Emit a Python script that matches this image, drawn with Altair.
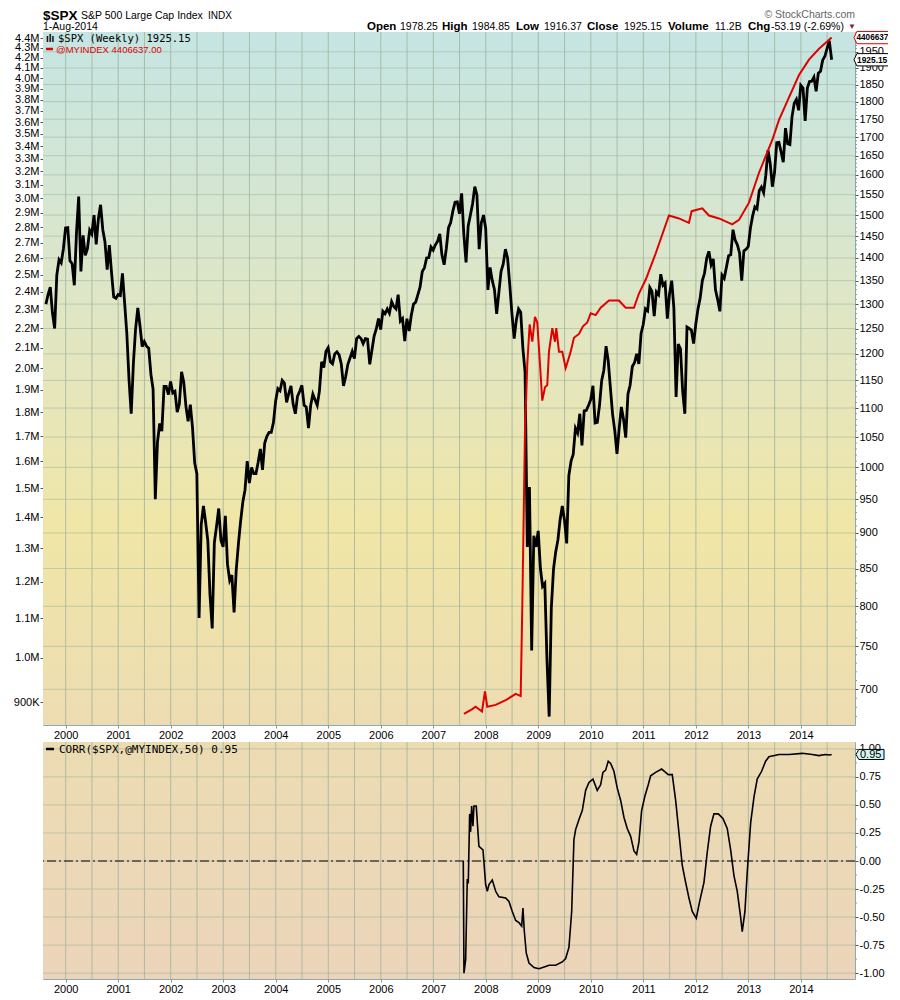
import altair as alt
import pandas as pd

# ---------------- layout constants ----------------
W, H1, H2 = 812, 693, 237
XDOM = [1999.568, 2015.03]
SPX_DOM = [661, 2013]
IDX_DOM = [852000, 4466000]
CORR_DOM = [-1.052, 1.061]
FONT = "Liberation Sans"
MONO = "DejaVu Sans Mono"
GRID = "#9fb39d"
RED = "#e00000"

# ---------------- data ----------------
# $SPX weekly chart, read as two values per month (mid-month, month-end)
spx_1999 = [1300, 1320, 1336, 1282, 1250, 1362, 1396, 1389, 1421, 1469]  # Aug..Dec
spx_2000 = [1470, 1394, 1387, 1340, 1460, 1545, 1370, 1452, 1406, 1421, 1464, 1455,
            1500, 1431, 1492, 1525, 1465, 1437, 1374, 1429, 1367, 1315, 1312, 1320]
spx_2001 = [1318, 1366, 1301, 1240, 1150, 1090, 1183, 1249, 1292, 1256, 1214, 1224,
            1215, 1211, 1161, 1134, 950, 1041, 1073, 1060, 1139, 1139, 1124, 1148]
spx_2002 = [1127, 1130, 1093, 1107, 1166, 1147, 1103, 1077, 1106, 1067, 1007, 990,
            785, 912, 940, 916, 889, 815, 772, 886, 910, 936, 889, 880]
spx_2003 = [925, 856, 834, 841, 792, 848, 885, 917, 946, 964, 1010, 975,
            1000, 990, 990, 1008, 1030, 996, 1040, 1051, 1058, 1058, 1075, 1112]
spx_2004 = [1135, 1131, 1150, 1145, 1110, 1126, 1140, 1107, 1090, 1121, 1130, 1141,
            1105, 1102, 1065, 1104, 1125, 1115, 1105, 1130, 1185, 1174, 1205, 1212]
spx_2005 = [1185, 1181, 1200, 1204, 1198, 1181, 1140, 1157, 1180, 1192, 1205, 1191,
            1230, 1234, 1230, 1220, 1230, 1229, 1180, 1207, 1235, 1249, 1270, 1248]
spx_2006 = [1285, 1280, 1290, 1281, 1305, 1295, 1290, 1320, 1265, 1270, 1225, 1270,
            1245, 1277, 1300, 1304, 1320, 1336, 1370, 1378, 1400, 1401, 1425, 1418]
spx_2007 = [1430, 1438, 1455, 1407, 1385, 1421, 1470, 1482, 1510, 1531, 1532, 1503,
            1553, 1455, 1390, 1474, 1500, 1527, 1570, 1549, 1420, 1481, 1500, 1468]
spx_2008 = [1330, 1379, 1350, 1331, 1280, 1323, 1370, 1386, 1420, 1400, 1340, 1280,
            1230, 1267, 1290, 1283, 1210, 1165, 880, 969, 745, 896, 880, 903]
spx_2009 = [850, 826, 830, 735, 670, 798, 850, 873, 890, 919, 940, 919,
            885, 987, 1010, 1021, 1065, 1057, 1090, 1036, 1095, 1096, 1105, 1115]
spx_2010 = [1140, 1074, 1075, 1104, 1150, 1169, 1215, 1187, 1135, 1089, 1060, 1022,
            1065, 1102, 1080, 1049, 1125, 1141, 1176, 1183, 1200, 1181, 1240, 1258]
spx_2011 = [1290, 1286, 1335, 1327, 1275, 1326, 1320, 1364, 1340, 1345, 1270, 1321,
            1350, 1292, 1120, 1219, 1210, 1131, 1090, 1253, 1250, 1247, 1220, 1258]
spx_2012 = [1290, 1312, 1350, 1366, 1400, 1415, 1385, 1398, 1330, 1310, 1285, 1362,
            1355, 1379, 1405, 1407, 1465, 1441, 1430, 1412, 1350, 1416, 1420, 1426]
spx_2013 = [1470, 1498, 1520, 1515, 1560, 1569, 1555, 1598, 1665, 1631, 1570, 1606,
            1685, 1686, 1660, 1633, 1725, 1682, 1680, 1757, 1795, 1806, 1775, 1848]
spx_2014 = [1840, 1745, 1840, 1859, 1860, 1872, 1830, 1884, 1890, 1924, 1936, 1960,
            1985, 1931]  # Jan..Jul
spx_last_t, spx_last_v = 2014.585, 1925.15

# @MYINDEX (decimal year, value)
idx_t = [2007.584, 2007.742, 2007.807, 2007.927, 2007.984, 2008.028, 2008.188, 2008.378,
         2008.569, 2008.664, 2008.694, 2008.746, 2008.790, 2008.835, 2008.885, 2008.936,
         2008.980, 2009.026, 2009.075, 2009.127, 2009.170, 2009.203, 2009.266, 2009.317,
         2009.342, 2009.393, 2009.456, 2009.520, 2009.570, 2009.616, 2009.678, 2009.774,
         2009.850, 2009.932, 2009.997, 2010.092, 2010.187, 2010.345, 2010.535, 2010.663,
         2010.821, 2010.916, 2011.044, 2011.234, 2011.487, 2011.678, 2011.868, 2011.920,
         2012.122, 2012.249, 2012.440, 2012.693, 2012.821, 2013.011, 2013.202, 2013.330,
         2013.455, 2013.583, 2013.773, 2013.964, 2014.154, 2014.345, 2014.585]
idx_v = [875000, 885000, 890000, 880000, 923000, 890000, 894000, 904000,
         918000, 913000, 1124000, 1720000, 2020000, 2220000, 2130000, 2260000,
         2230000, 2040000, 1850000, 1910000, 1920000, 2080000, 2200000, 2130000,
         2200000, 2080000, 2080000, 2000000, 2040000, 2080000, 2150000, 2170000,
         2210000, 2230000, 2280000, 2270000, 2310000, 2350000, 2350000, 2310000,
         2310000, 2390000, 2470000, 2630000, 2880000, 2860000, 2830000, 2910000,
         2930000, 2880000, 2860000, 2820000, 2850000, 2970000, 3190000, 3320000,
         3450000, 3620000, 3820000, 4030000, 4180000, 4290000, 4406637]

# CORR($SPX,@MYINDEX,50)
corr_t = [2007.571, 2007.584, 2007.616, 2007.647, 2007.666, 2007.692, 2007.711, 2007.730,
          2007.755, 2007.774, 2007.818, 2007.869, 2007.946, 2007.997, 2008.028, 2008.060,
          2008.123, 2008.188, 2008.250, 2008.378, 2008.441, 2008.504, 2008.569, 2008.631,
          2008.683, 2008.707, 2008.732, 2008.770, 2008.822, 2008.917, 2009.012, 2009.140,
          2009.203, 2009.330, 2009.456, 2009.520, 2009.583, 2009.635, 2009.678, 2009.710,
          2009.774, 2009.837, 2009.901, 2009.964, 2010.040, 2010.122, 2010.187, 2010.230,
          2010.282, 2010.331, 2010.377, 2010.440, 2010.503, 2010.568, 2010.630, 2010.693,
          2010.758, 2010.821, 2010.872, 2010.916, 2010.967, 2011.030, 2011.093, 2011.139,
          2011.234, 2011.348, 2011.424, 2011.474, 2011.550, 2011.615, 2011.678, 2011.741,
          2011.805, 2011.868, 2011.931, 2012.007, 2012.072, 2012.154, 2012.217, 2012.281,
          2012.344, 2012.426, 2012.515, 2012.597, 2012.662, 2012.725, 2012.788, 2012.852,
          2012.883, 2012.934, 2012.978, 2013.043, 2013.106, 2013.168, 2013.252, 2013.328,
          2013.391, 2013.582, 2013.772, 2014.026, 2014.216, 2014.344, 2014.458, 2014.547,
          2014.585]
corr_v = [0.0, -1.0, -0.88, -0.16, -0.20, 0.42, 0.26, 0.49,
          0.31, 0.49, 0.49, 0.13, 0.10, -0.21, -0.27, -0.21,
          -0.17, -0.27, -0.32, -0.33, -0.36, -0.45, -0.53, -0.55,
          -0.58, -0.42, -0.62, -0.82, -0.91, -0.95, -0.96, -0.94,
          -0.93, -0.93, -0.90, -0.87, -0.77, -0.45, 0.19, 0.28,
          0.37, 0.45, 0.63, 0.70, 0.73, 0.63, 0.68, 0.79,
          0.81, 0.89, 0.87, 0.80, 0.65, 0.54, 0.39, 0.29,
          0.22, 0.09, 0.06, 0.17, 0.45, 0.58, 0.68, 0.76,
          0.79, 0.82, 0.79, 0.77, 0.77, 0.54, 0.25, -0.04,
          -0.19, -0.33, -0.45, -0.51, -0.36, -0.19, 0.08, 0.31,
          0.42, 0.42, 0.38, 0.29, 0.10, -0.13, -0.27, -0.50,
          -0.63, -0.45, -0.10, 0.34, 0.57, 0.73, 0.80, 0.89,
          0.93, 0.95, 0.95, 0.96, 0.95, 0.94, 0.95, 0.945,
          0.95]

spx_ticks = list(range(700, 2000, 50))
spx_minor = [v for v in range(670, 2010, 10) if v % 50 != 0]
idx_ticks = [900000 + 100000 * i for i in range(36)]
corr_ticks = [-1.0, -0.75, -0.5, -0.25, 0.0, 0.25, 0.5, 0.75, 1.0]
corr_minor = [-0.875, -0.625, -0.375, -0.125, 0.125, 0.375, 0.625, 0.875]
year_labels = list(range(2000, 2015))
half_years = [2000 + 0.5 * i for i in range(30)]

# ---------------- tables ----------------
spx_years = {1999: spx_1999, 2000: spx_2000, 2001: spx_2001, 2002: spx_2002, 2003: spx_2003,
             2004: spx_2004, 2005: spx_2005, 2006: spx_2006, 2007: spx_2007, 2008: spx_2008,
             2009: spx_2009, 2010: spx_2010, 2011: spx_2011, 2012: spx_2012, 2013: spx_2013,
             2014: spx_2014}
rows = []
for yr, vals in spx_years.items():
    m0 = 8 if yr == 1999 else 1
    for i, v in enumerate(vals):
        m = m0 + i // 2
        f = 0.48 if i % 2 == 0 else 0.97
        rows.append({"t": yr + (m - 1 + f) / 12.0, "v": v})
rows.append({"t": spx_last_t, "v": spx_last_v})
spx_df = pd.DataFrame(rows)
idx_df = pd.DataFrame({"t": idx_t, "v": idx_v})
corr_df = pd.DataFrame({"t": corr_t, "v": corr_v})
one = pd.DataFrame({"a": [0]})

# ---------------- scales / axes ----------------
xs = alt.Scale(domain=XDOM, nice=False, zero=False)
xaxis = alt.Axis(values=year_labels, format="d", grid=False, domain=False, ticks=True,
                 tickSize=3, tickColor="#7f9a8a", labelPadding=1, labelFont=FONT,
                 labelFontSize=11, labelColor="#000", title=None, labelFlush=False,
                 labelOverlap=False)
spx_scale = alt.Scale(type="log", domain=SPX_DOM, nice=False, zero=False)
idx_scale = alt.Scale(type="log", domain=IDX_DOM, nice=False, zero=False)
corr_scale = alt.Scale(domain=CORR_DOM, nice=False, zero=False)


def X():
    return alt.X("t:Q", scale=xs, axis=xaxis, title=None)


def txt(text, x, y, size=11, weight="normal", color="#000", font=FONT, align="left"):
    return alt.Chart(one).mark_text(text=text, align=align, baseline="alphabetic",
                                    font=font, fontSize=size, fontWeight=weight,
                                    color=color).encode(x=alt.value(x), y=alt.value(y))


def grad(stops):
    return alt.LinearGradient(gradient="linear",
                              stops=[alt.GradientStop(offset=o, color=c) for o, c in stops],
                              x1=0, x2=0, y1=0, y2=1)


TAG_PATH = "M-1,0 L-0.86,-0.3 L1,-0.3 L1,0.3 L-0.86,0.3 Z"

# ---------------- top panel ----------------
bg1 = alt.Chart(one).mark_rect(fill=grad([(0, "#c5e5e3"), (0.3, "#d9e6cd"), (0.55, "#e8e6b8"),
                                          (0.72, "#f0e6a6"), (1, "#eddcb2")])).encode(
    x=alt.value(0), x2=alt.value(W), y=alt.value(0), y2=alt.value(H1))

vgrid1 = alt.Chart(pd.DataFrame({"t": half_years})).mark_rule(
    color=GRID, strokeWidth=1, opacity=0.8).encode(x=X())
hgrid1 = alt.Chart(pd.DataFrame({"v": spx_ticks})).mark_rule(
    color=GRID, strokeWidth=1, opacity=0.55).encode(
    y=alt.Y("v:Q", scale=spx_scale, axis=None))
minor1 = alt.Chart(pd.DataFrame({"v": spx_minor})).mark_rule(
    color="#8a9aa0", strokeWidth=1).encode(
    x=alt.value(W), x2=alt.value(W + 2), y=alt.Y("v:Q", scale=spx_scale, axis=None))

spx_line = alt.Chart(spx_df).mark_line(color="#000", strokeWidth=2.8).encode(
    x=X(),
    y=alt.Y("v:Q", scale=spx_scale, title=None,
            axis=alt.Axis(orient="right", values=spx_ticks, format="d", grid=False,
                          domain=False, tickSize=3, tickColor="#555", labelPadding=1,
                          labelFont=FONT, labelFontSize=11, labelColor="#000",
                          labelOverlap=False)))

idx_line = alt.Chart(idx_df).mark_line(color=RED, strokeWidth=2).encode(
    x=X(),
    y=alt.Y("v:Q", scale=idx_scale, title=None,
            axis=alt.Axis(orient="left", values=idx_ticks, grid=False, domain=False,
                          tickSize=3, tickColor="#555", labelPadding=1, labelFont=FONT,
                          labelFontSize=11, labelColor="#000", labelOverlap=False,
                          labelExpr="datum.value >= 1000000 ? format(datum.value/1000000, '.1f') + 'M' : format(datum.value/1000, 'd') + 'K'")))

tag_idx_shape = alt.Chart(pd.DataFrame({"v": [idx_v[-1]]})).mark_point(
    shape=TAG_PATH, size=1681, filled=True,
    fill="#ffffff", stroke=RED, strokeWidth=1, opacity=1).encode(
    x=alt.value(W + 19.5), y=alt.Y("v:Q", scale=idx_scale, axis=None))
tag_idx_txt = alt.Chart(pd.DataFrame({"v": [idx_v[-1]]})).mark_text(
    text="4406637", align="left", baseline="middle", font=FONT, fontSize=8.2,
    fontWeight="bold", color="#000", dy=0.5).encode(
    x=alt.value(W + 1.5), y=alt.Y("v:Q", scale=idx_scale, axis=None))
tag_spx_shape = alt.Chart(pd.DataFrame({"v": [spx_last_v]})).mark_point(
    shape=TAG_PATH, size=1681, filled=True,
    fill="#ffffff", stroke="#000", strokeWidth=1, opacity=1).encode(
    x=alt.value(W + 19.5), y=alt.Y("v:Q", scale=spx_scale, axis=None))
tag_spx_txt = alt.Chart(pd.DataFrame({"v": [spx_last_v]})).mark_text(
    text="1925.15", align="left", baseline="middle", font=FONT, fontSize=8.4,
    fontWeight="bold", color="#000", dy=0.5).encode(
    x=alt.value(W + 2), y=alt.Y("v:Q", scale=spx_scale, axis=None))

leg_icon = txt("ılı", 3, 10, size=10, weight="bold")
leg_spx = txt("$SPX (Weekly) 1925.15", 15, 10, size=10.5, font=MONO)
leg_dash = alt.Chart(one).mark_rule(color=RED, strokeWidth=2.5).encode(
    x=alt.value(3), x2=alt.value(10), y=alt.value(17))
leg_idx = txt("@MYINDEX 4406637.00", 13, 20.5, size=9.5, color=RED)

hdr = [
    txt("$SPX", 0, -12.5, size=13.5, weight="bold"),
    txt("S&P 500 Large Cap Index", 38, -13.5, size=10.5),
    txt("INDX", 165, -13.5, size=10),
    txt("1-Aug-2014", 0, -2.5, size=10.5),
    txt("\u00a9 StockCharts.com", W, -14.5, size=10.5, color="#666", align="right"),
]
segs = [("Open", True, 324), ("1978.25", False, 357), ("High", True, 399),
        ("1984.85", False, 429), ("Low", True, 473), ("1916.37", False, 501),
        ("Close", True, 544), ("1925.15", False, 581), ("Volume", True, 625),
        ("11.2B", False, 672), ("Chg", True, 705), ("-53.19 (-2.69%)", False, 728)]
for s, b, xx in segs:
    hdr.append(txt(s, xx, -2.5, size=11.5 if b else 10.5, weight="bold" if b else "normal"))
hdr.append(txt("\u25bc", 805, -3.5, size=8, color="#8b1c3c"))

top = alt.layer(bg1, vgrid1, hgrid1, minor1, spx_line, idx_line, tag_idx_shape, tag_idx_txt,
                tag_spx_shape, tag_spx_txt, leg_icon, leg_spx, leg_dash, leg_idx,
                *hdr).resolve_scale(y="independent").properties(width=W, height=H1)

# ---------------- bottom panel ----------------
corr_axis = alt.Axis(orient="right", values=corr_ticks, grid=False, domain=False,
                     tickSize=3, tickColor="#555", labelPadding=1, labelFont=FONT,
                     labelFontSize=11, labelColor="#000", labelOverlap=False,
                     labelExpr="replace(format(datum.value, '.2f'), '\u2212', '-')")


def YC():
    return alt.Y("v:Q", scale=corr_scale, axis=corr_axis, title=None)


bg2 = alt.Chart(one).mark_rect(fill=grad([(0, "#ecdcb2"), (1, "#ecd4ba")])).encode(
    x=alt.value(0), x2=alt.value(W), y=alt.value(0), y2=alt.value(H2))
vgrid2 = alt.Chart(pd.DataFrame({"t": half_years})).mark_rule(
    color=GRID, strokeWidth=1, opacity=0.8).encode(x=X())
hgrid2 = alt.Chart(pd.DataFrame({"v": corr_ticks})).mark_rule(
    color=GRID, strokeWidth=1, opacity=0.55).encode(y=YC())
minor2 = alt.Chart(pd.DataFrame({"v": corr_minor})).mark_rule(
    color="#8a9aa0", strokeWidth=1).encode(x=alt.value(W), x2=alt.value(W + 2), y=YC())
zero = alt.Chart(pd.DataFrame({"v": [0.0]})).mark_rule(
    color="#000", strokeWidth=1, strokeDash=[9, 3, 2, 3]).encode(y=YC())
corr_line = alt.Chart(corr_df).mark_line(color="#000", strokeWidth=1.6).encode(x=X(), y=YC())
tag_c_shape = alt.Chart(pd.DataFrame({"v": [0.95]})).mark_point(
    shape="M-1,0 L-0.8,-0.36 L1,-0.36 L1,0.36 L-0.8,0.36 Z", size=784, filled=True,
    fill="#d2f4f4", stroke="#000", strokeWidth=1, opacity=1).encode(
    x=alt.value(W + 15), y=YC())
tag_c_txt = alt.Chart(pd.DataFrame({"v": [0.95]})).mark_text(
    text="0.95", align="left", baseline="middle", font=FONT, fontSize=11,
    color="#000", dy=1).encode(x=alt.value(W + 5), y=YC())
cdash = alt.Chart(one).mark_rule(color="#000", strokeWidth=2.5).encode(
    x=alt.value(3), x2=alt.value(11), y=alt.value(7))
ctext = txt("CORR($SPX,@MYINDEX,50) 0.95", 16, 11, size=11, font=MONO)

bottom = alt.layer(bg2, vgrid2, hgrid2, minor2, zero, corr_line, tag_c_shape, tag_c_txt,
                   cdash, ctext).properties(width=W, height=H2)

chart = alt.vconcat(top, bottom, spacing=0).properties(
    padding={"left": 4, "top": 0, "right": -10, "bottom": 0},
    background="#ffffff",
).configure_view(stroke="#8aaab4", strokeWidth=1)

chart.save("out.html", embed_options={"renderer": "svg", "actions": False})
